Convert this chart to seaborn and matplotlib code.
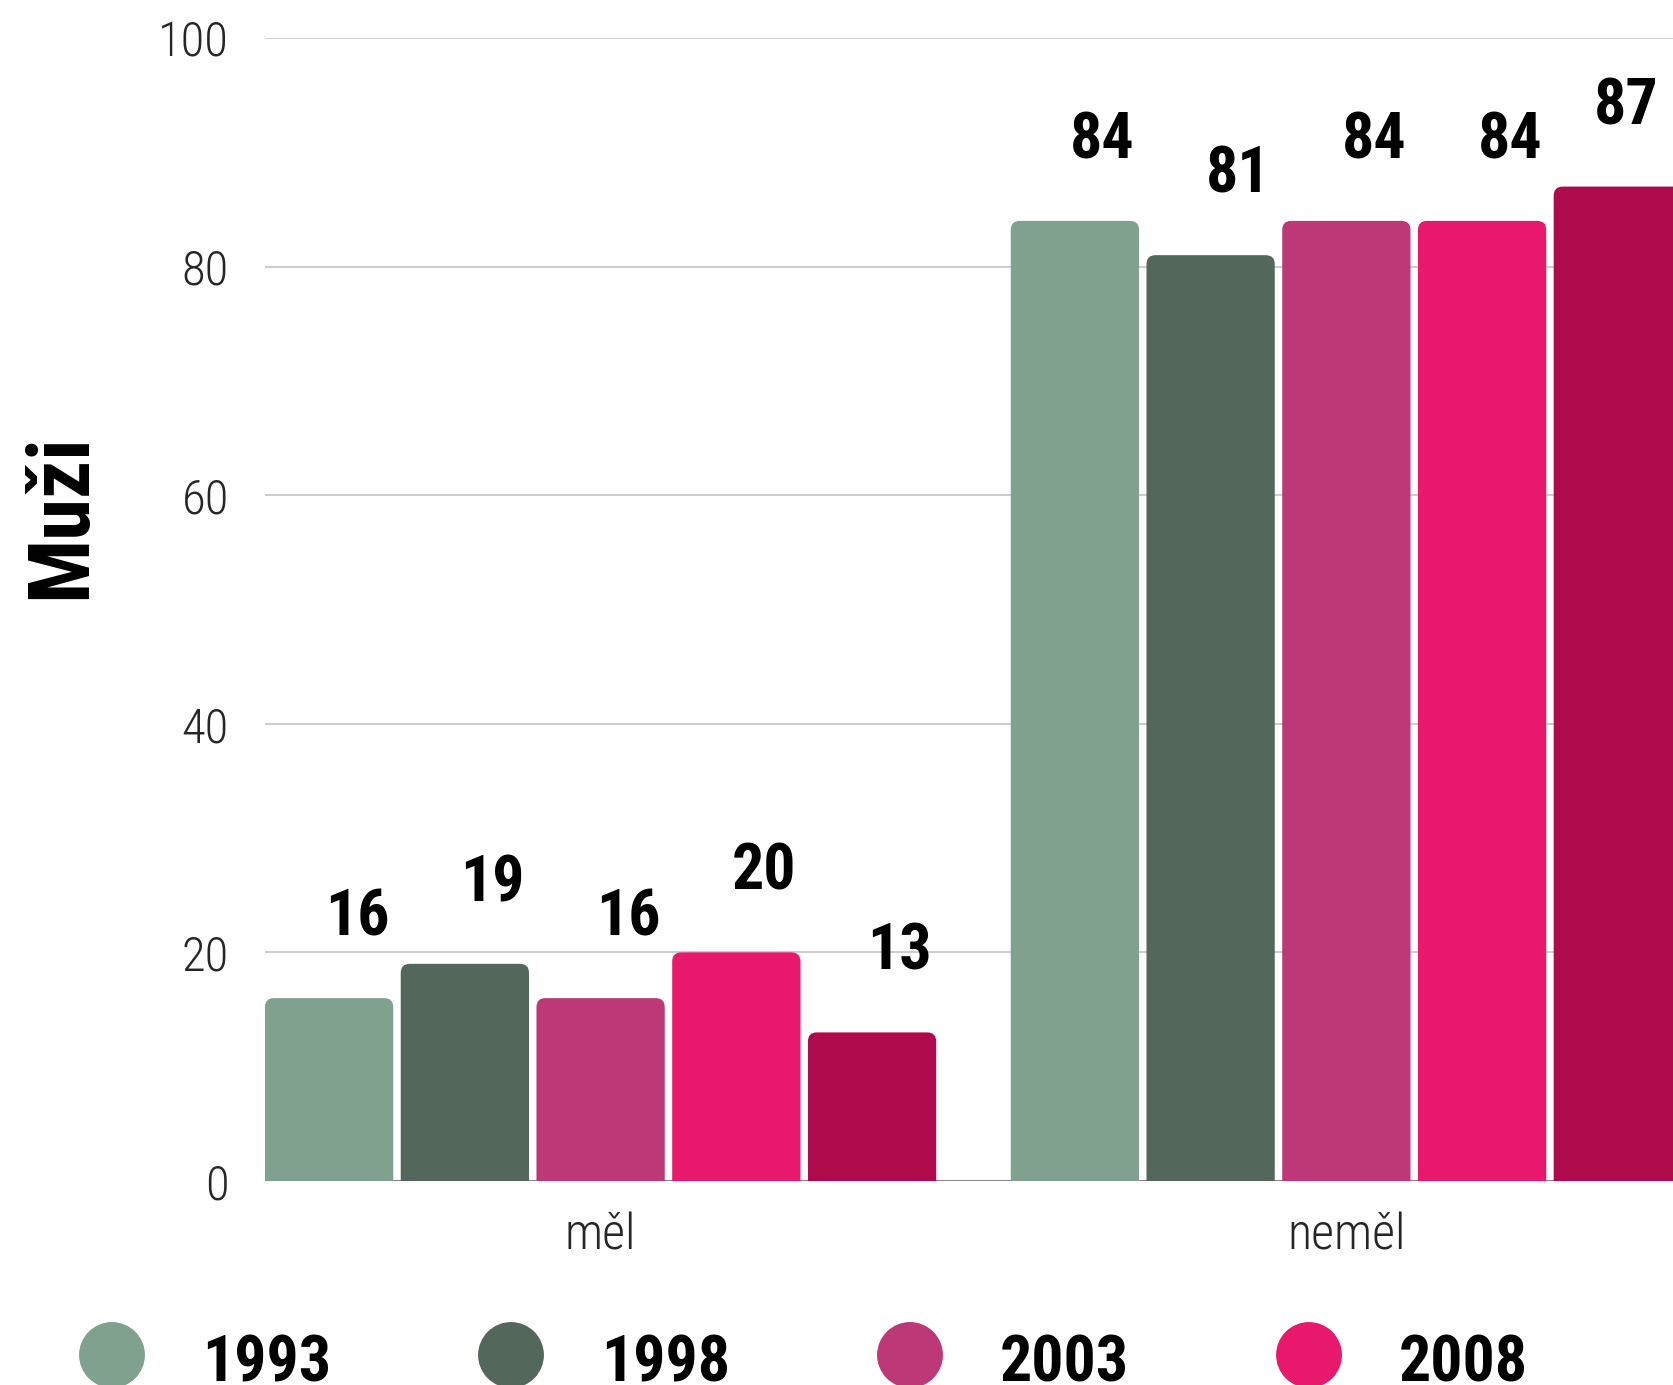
import pandas as pd
import matplotlib
matplotlib.use("Agg")
import matplotlib.pyplot as plt
import seaborn as sns
from matplotlib import font_manager as fm
from matplotlib.patches import FancyBboxPatch

# Data
categories = ["měl", "neměl"]
years = ["1993", "1998", "2003", "2008", "2013"]
values_mel = [16, 19, 16, 20, 13]
values_nemel = [84, 81, 84, 84, 87]
colors = ["#80A18E", "#53685A", "#BC3876", "#E8196C", "#AF0B4C"]
y_ticks = [0, 20, 40, 60, 80, 100]

df = pd.DataFrame({
    "kategorie": [categories[0]] * len(years) + [categories[1]] * len(years),
    "rok": years * 2,
    "hodnota": values_mel + values_nemel,
})

# Pick a condensed font if one is installed
names = {f.name for f in fm.fontManager.ttflist}
font = "DejaVu Sans"
for cand in ["Roboto Condensed", "Liberation Sans Narrow", "Open Sans Condensed"]:
    if cand in names:
        font = cand
        break
stretch = "condensed" if font == "DejaVu Sans" else "normal"

sns.set_style("white")
plt.rcParams["font.family"] = [font, "DejaVu Sans"]
plt.rcParams["font.stretch"] = stretch

W, H = 1673, 1385
fig = plt.figure(figsize=(W / 100, H / 100), dpi=100)
ax = fig.add_axes([265 / W, 1 - 1181 / H, 1 - 265 / W, (1181 - 38) / H])

sns.barplot(data=df, x="kategorie", y="hodnota", hue="rok", palette=colors,
            width=0.91, gap=0.055, dodge=True, legend=False, ax=ax,
            saturation=1, zorder=2)

ax.set_xlim(-0.45, 1.438)
ax.set_ylim(0, 100)
ax.set_yticks(y_ticks)
ax.grid(axis="y", color="#c8c8c8", linewidth=1.3, zorder=0)
ax.set_axisbelow(True)
for s in ax.spines.values():
    s.set_visible(False)
ax.axhline(0, color="#888888", linewidth=1.5, zorder=1)
ax.tick_params(axis="y", length=0, pad=26, labelsize=35)
ax.tick_params(axis="x", length=0, pad=22, labelsize=36)
for t in ax.get_yticklabels() + ax.get_xticklabels():
    t.set_fontweight("light")
ax.set_xlabel("")
ax.set_ylabel("")

# rounded top corners on bars (bottom part falls below 0 and is clipped)
fig.canvas.draw()
px_x = ax.transData.transform((1, 0))[0] - ax.transData.transform((0, 0))[0]
px_y = ax.transData.transform((0, 1))[1] - ax.transData.transform((0, 0))[1]
r_px = 9
rx = r_px / px_x
asp = (r_px / px_y) / rx
bars = [p for p in ax.patches if p.get_height() > 0]
labels = []
for bar in bars:
    x, w, h = bar.get_x(), bar.get_width(), bar.get_height()
    fc = bar.get_facecolor()
    bar.set_visible(False)
    ax.add_patch(FancyBboxPatch((x, -3), w, h + 3, boxstyle=f"round,pad=0,rounding_size={rx}",
                                mutation_aspect=asp, fc=fc, ec="none", zorder=2))
    labels.append(ax.annotate(f"{int(round(h))}", (x + w / 2, h), xytext=(20, 45),
                              textcoords="offset points", ha="center", va="baseline",
                              fontsize=46, fontweight="bold", color="black", zorder=3,
                              annotation_clip=False))

# keep value labels inside the figure
fig.canvas.draw()
renderer = fig.canvas.get_renderer()
for lab in labels:
    x1 = lab.get_window_extent(renderer).x1
    if x1 > W - 14:
        dx = (x1 - (W - 14)) * 72 / 100
        ox, oy = lab.xyann
        lab.xyann = (ox - dx, oy)

# y label
fig.text(62 / W, 1 - 516 / H, "Muži", rotation=90, ha="center", va="center",
         fontsize=61, fontweight="black", color="black")

# legend drawn in pixel coordinates of the figure
lax = fig.add_axes([0, 0, 1, 1], zorder=-1)
lax.set_xlim(0, W)
lax.set_ylim(H, 0)
lax.axis("off")
lax.patch.set_alpha(0)
for i, (yr, c) in enumerate(zip(years, colors)):
    cx = 112 + i * 399
    lax.scatter([cx], [1355], s=2250, color=c, edgecolor="none", clip_on=False)
    lax.text(cx + 90, 1381, yr, ha="left", va="baseline", fontsize=46,
             fontweight="bold", color="black")

fig.savefig("out.png", dpi=100)
